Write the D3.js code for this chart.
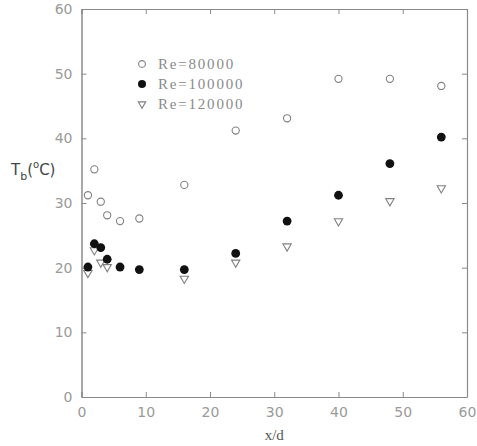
<!DOCTYPE html>
<html>
<head>
<meta charset="utf-8">
<script src="https://cdn.jsdelivr.net/npm/d3@7"></script>
<style>
  body { margin: 0; background: #fff; }
  svg { display: block; }
</style>
</head>
<body>
<svg id="chart"></svg>
<script>
// values: x/d and T_b (deg C)
const re80X = [1, 2, 3, 4, 6, 9, 16, 24, 32, 40, 48, 56];
const re80Y = [31.2, 35.2, 30.2, 28.1, 27.2, 27.6, 32.8, 41.2, 43.1, 49.2, 49.2, 48.1];
const re100X = [1, 2, 3, 4, 6, 9, 16, 24, 32, 40, 48, 56];
const re100Y = [20.1, 23.7, 23.1, 21.3, 20.1, 19.7, 19.7, 22.2, 27.2, 31.2, 36.1, 40.2];
const re120X = [1, 2, 3, 4, 16, 24, 32, 40, 48, 56];
const re120Y = [19.2, 22.7, 20.8, 20.1, 18.3, 20.8, 23.3, 27.2, 30.3, 32.3];
const legendLabels = ['Re=80000', 'Re=100000', 'Re=120000'];
const xTicks = [0, 10, 20, 30, 40, 50, 60];
const yTicks = [0, 10, 20, 30, 40, 50, 60];

const width = 477, height = 446;
const margin = { top: 9, right: 10, bottom: 49, left: 81.5 };
const innerW = width - margin.left - margin.right;
const innerH = height - margin.top - margin.bottom;

const svg = d3.select('#chart').attr('width', width).attr('height', height);
const g = svg.append('g').attr('transform', `translate(${margin.left},${margin.top})`);

const x = d3.scaleLinear().domain([0, 60]).range([0, innerW]);
const y = d3.scaleLinear().domain([0, 60]).range([innerH, 0]);

const axisColor = '#8a8a8a';
const labelColor = '#9a9a9a';

function styleAxis(sel, showText) {
  sel.select('.domain').attr('stroke', axisColor).attr('stroke-width', 1.2);
  sel.selectAll('.tick line').attr('stroke', axisColor).attr('stroke-width', 1);
  sel.selectAll('.tick text')
    .attr('fill', labelColor)
    .style('font-family', 'DejaVu Sans, sans-serif')
    .style('font-size', '14px')
    .style('display', showText ? null : 'none');
}

g.append('g').attr('transform', `translate(0,${innerH})`)
  .call(d3.axisBottom(x).tickValues(xTicks).tickSizeInner(-5).tickSizeOuter(0).tickPadding(10))
  .call(s => styleAxis(s, true));
g.append('g')
  .call(d3.axisTop(x).tickValues(xTicks).tickSizeInner(-5).tickSizeOuter(0))
  .call(s => styleAxis(s, false));
g.append('g')
  .call(d3.axisLeft(y).tickValues(yTicks).tickSizeInner(-5).tickSizeOuter(0).tickPadding(9))
  .call(s => styleAxis(s, true));
g.append('g').attr('transform', `translate(${innerW},0)`)
  .call(d3.axisRight(y).tickValues(yTicks).tickSizeInner(-5).tickSizeOuter(0))
  .call(s => styleAxis(s, false));
g.selectAll('.domain').filter((d, i) => i === 2).attr('stroke', '#707070');

// series
const tri = d3.symbol().type(d3.symbolTriangle).size(30);
function zip(xs, ys) { return xs.map((v, i) => ({ x: v, y: ys[i] })); }

g.selectAll('.s80').data(zip(re80X, re80Y)).enter().append('circle')
  .attr('cx', d => x(d.x)).attr('cy', d => y(d.y)).attr('r', 3.6)
  .attr('fill', 'none').attr('stroke', '#808080').attr('stroke-width', 1.1);

g.selectAll('.s120').data(zip(re120X, re120Y)).enter().append('path')
  .attr('d', tri)
  .attr('transform', d => `translate(${x(d.x)},${y(d.y)}) rotate(180)`)
  .attr('fill', 'none').attr('stroke', '#808080').attr('stroke-width', 1.1);

g.selectAll('.s100').data(zip(re100X, re100Y)).enter().append('circle')
  .attr('cx', d => x(d.x)).attr('cy', d => y(d.y)).attr('r', 4.4)
  .attr('fill', '#111');

// legend
const legend = svg.append('g').attr('transform', 'translate(142,64)');
legendLabels.forEach((lab, i) => {
  const row = legend.append('g').attr('transform', `translate(0,${i * 20})`);
  if (i === 0) {
    row.append('circle').attr('r', 3.4).attr('fill', 'none').attr('stroke', '#808080').attr('stroke-width', 1.1);
  } else if (i === 1) {
    row.append('circle').attr('r', 4).attr('fill', '#111');
  } else {
    row.append('path').attr('d', d3.symbol().type(d3.symbolTriangle).size(24)())
      .attr('transform', 'rotate(180)')
      .attr('fill', 'none').attr('stroke', '#808080').attr('stroke-width', 1.1);
  }
  row.append('text').attr('x', 16).attr('y', 5)
    .attr('fill', '#8a8a8a')
    .style('font-family', 'Liberation Serif, serif')
    .style('font-size', '15px')
    .style('letter-spacing', '1.8px')
    .text(lab);
});

// axis titles
svg.append('text')
  .attr('x', margin.left + innerW / 2).attr('y', 440)
  .attr('text-anchor', 'middle')
  .attr('fill', '#555')
  .style('font-family', 'Liberation Serif, serif')
  .style('font-size', '15px')
  .text('x/d');

const yt = svg.append('text').attr('x', 11).attr('y', 175)
  .attr('fill', '#444')
  .style('font-family', 'DejaVu Sans, sans-serif')
  .style('font-size', '15px');
yt.append('tspan').text('T');
yt.append('tspan').attr('dy', 5).style('font-size', '11px').text('b');
yt.append('tspan').attr('dy', -5).text('(');
yt.append('tspan').attr('dy', -7).style('font-size', '10px').text('o');
yt.append('tspan').attr('dy', 7).text('C)');
</script>
</body>
</html>
